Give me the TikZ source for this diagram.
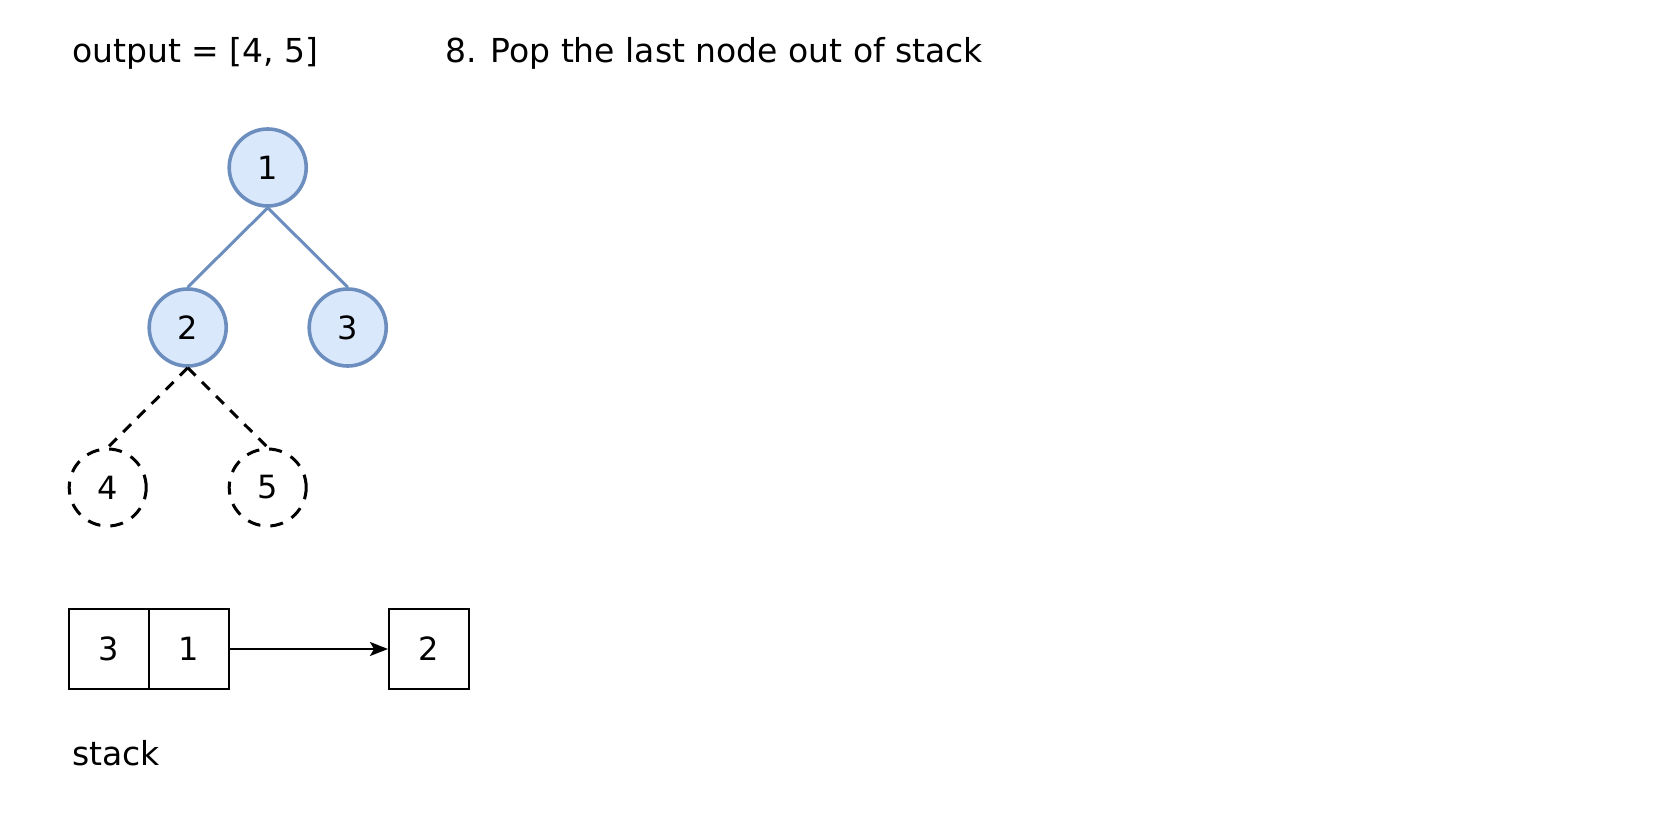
\documentclass[tikz,border=0pt]{standalone}
\usepackage{fontspec}
\setmainfont{DejaVu Sans}
\usetikzlibrary{arrows.meta}
\definecolor{nodefill}{HTML}{DAE8FC}
\definecolor{nodeline}{HTML}{6C8EBF}
\begin{document}
\begin{tikzpicture}[x=1pt,y=-1pt,
  every node/.style={font=\fontsize{32}{38}\selectfont},
  treenode/.style={circle,draw=nodeline,fill=nodefill,line width=3.6pt,minimum size=77pt,inner sep=0pt},
  ghost/.style={circle,draw=black,dash pattern=on 13pt off 10pt,line width=3pt,minimum size=77pt,inner sep=0pt},
  treeedge/.style={draw=nodeline,line width=3pt},
  ghostedge/.style={draw=black,line width=3pt,dash pattern=on 11pt off 9pt},
  cell/.style={draw=black,line width=2pt,minimum size=80pt,inner sep=0pt},
  label/.style={anchor=west,inner sep=0pt,font=\fontsize{33}{40}\selectfont}
]
\useasboundingbox (0,0) rectangle (1670,818);
\node[label] (out) at (72,53) {output = [4, 5]};
\node[label] (title) at (445,53) {8. Pop the last node out of stack};
\node[treenode] (n1) at (267.7,167.5) {1};
\node[treenode] (n2) at (187.7,327.5) {2};
\node[treenode] (n3) at (347.7,327.5) {3};
\node[ghost] (n4) at (107.7,487.5) {4};
\node[ghost] (n5) at (267.7,487.5) {5};
\draw[treeedge] (n1.south) -- (n2.north);
\draw[treeedge] (n1.south) -- (n3.north);
\draw[ghostedge] (n2.south) -- (n4.north);
\draw[ghostedge] (n2.south) -- (n5.north);
\node[cell] (s3) at (109,649) {3};
\node[cell] (s1) at (189,649) {1};
\node[cell] (p2) at (429,649) {2};
\draw[line width=2pt,-{Stealth[length=18pt,width=14pt,inset=4pt]}] (s1.east) -- (p2.west);
\node[label] (stk) at (72,753) {stack};
\end{tikzpicture}
\end{document}
